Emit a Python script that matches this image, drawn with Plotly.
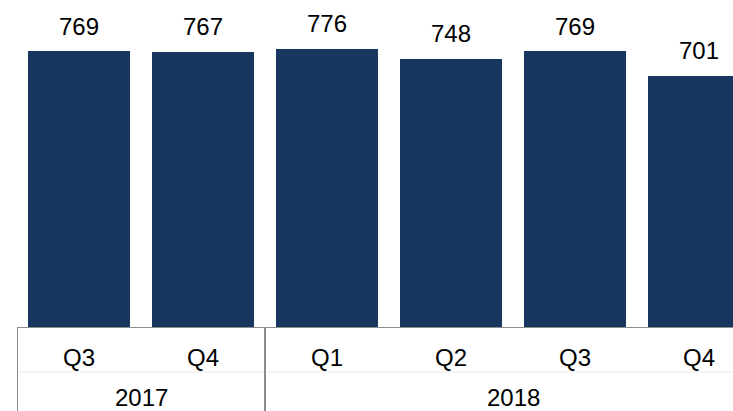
import plotly.graph_objects as go

quarters = ["Q3", "Q4", "Q1", "Q2", "Q3", "Q4"]
years = ["2017", "2017", "2018", "2018", "2018", "2018"]
values = [769, 767, 776, 748, 769, 701]

xs = list(range(len(values)))
bar_color = "#17375e"
line_color = "#8c8c8c"
font = "Liberation Sans, Arial, sans-serif"
fsize = 24

fig = go.Figure()
fig.add_trace(go.Bar(x=xs, y=values, marker=dict(color=bar_color, line=dict(width=0)),
                     width=0.83, hoverinfo="skip"))

annotations = []
for x, v in zip(xs, values):
    annotations.append(dict(x=x, y=v, xref="x", yref="y", text=str(v), showarrow=False,
                            yanchor="middle", yshift=25,
                            font=dict(family=font, size=fsize, color="#000000")))

# year groups
groups = []
for i, yr in enumerate(years):
    if not groups or groups[-1][0] != yr:
        groups.append([yr, i, i])
    else:
        groups[-1][2] = i

shapes = []
for yr, a, b in groups:
    annotations.append(dict(x=(a + b) / 2, y=0, xref="x", yref="y", text=yr, showarrow=False,
                            yanchor="middle", yshift=-69,
                            font=dict(family=font, size=fsize, color="#000000")))
    shapes.append(dict(type="line", xref="x", yref="paper", x0=a - 0.5, x1=a - 0.5,
                       y0=0, y1=-0.3, line=dict(color=line_color, width=2)))

# faint row separator
shapes.append(dict(type="line", xref="paper", yref="paper", x0=0, x1=1, y0=-44 / 328, y1=-44 / 328,
                   line=dict(color="#ececec", width=1), layer="below"))

fig.update_layout(
    width=733, height=411,
    margin=dict(l=17, r=0, t=0, b=83),
    paper_bgcolor="white", plot_bgcolor="white",
    showlegend=False,
    bargap=0,
    xaxis=dict(range=[-0.5, 5.274], tickmode="array", tickvals=xs, ticktext=quarters,
               showgrid=False, zeroline=False, showline=False, ticks="",
               ticklabelstandoff=13, fixedrange=True,
               tickfont=dict(family=font, size=fsize, color="#000000")),
    yaxis=dict(range=[0, 911], visible=False, showgrid=False, zeroline=False, fixedrange=True),
    annotations=annotations,
    shapes=shapes + [dict(type="line", xref="paper", yref="y", x0=0, x1=1, y0=0, y1=0,
                          line=dict(color=line_color, width=2))],
)

fig.write_html("out.html", config={"displayModeBar": False, "staticPlot": True})

with open("out.html", "r", encoding="utf-8") as f:
    html = f.read()
html = html.replace("<head>", "<head><style>html,body{margin:0;padding:0;overflow:hidden;}</style>", 1)
with open("out.html", "w", encoding="utf-8") as f:
    f.write(html)
